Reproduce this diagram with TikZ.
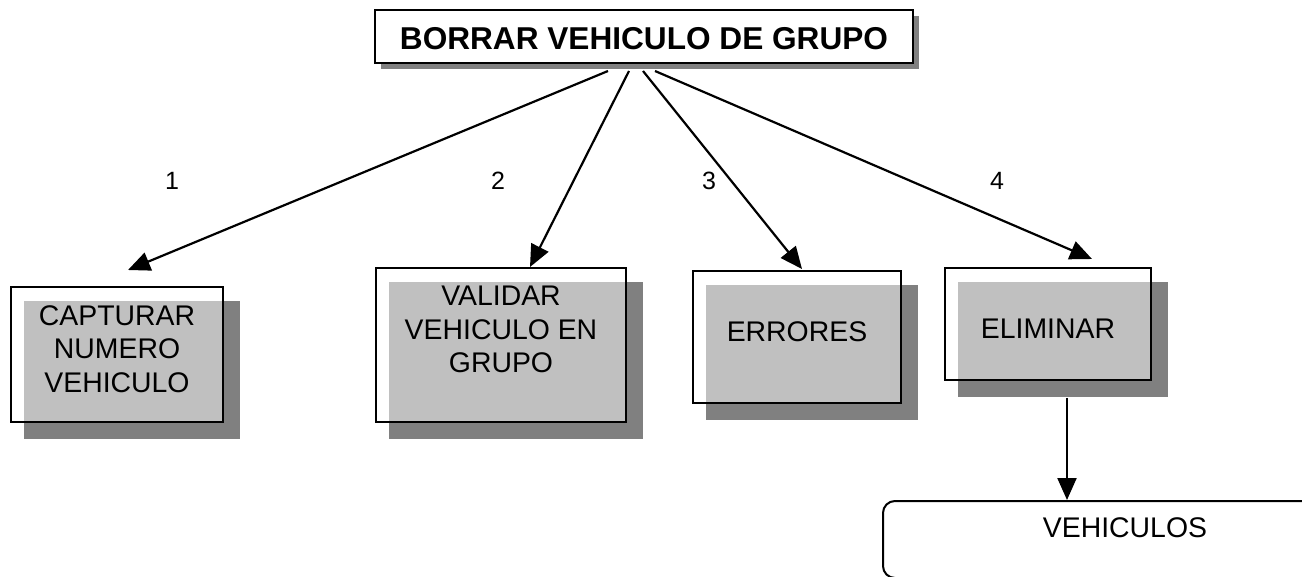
\documentclass[tikz,border=0pt]{standalone}
\usepackage{fontspec}
\setmainfont{Liberation Sans}
\usetikzlibrary{arrows.meta, shadows, backgrounds}
\definecolor{boxgrey}{HTML}{C0C0C0}
\definecolor{shadegrey}{HTML}{808080}

\begin{document}
\begin{tikzpicture}[x=0.5pt, y=-0.5pt,
    title box/.style={draw, line width=1pt, fill=white, inner sep=0pt,
        minimum width=269pt, minimum height=26.5pt,
        text height=13.5pt, text depth=0pt,
        font=\bfseries\fontsize{15.8}{18}\selectfont,
        drop shadow={shadow xshift=3pt, shadow yshift=-3pt, fill=shadegrey, opacity=1}},
    frame box/.style={draw, line width=1pt, inner sep=0pt},
    box text/.style={inner sep=0pt, align=center, font=\fontsize{14.2}{16.75}\selectfont},
    num label/.style={inner sep=0pt, font=\fontsize{12.5}{14}\selectfont},
    conn/.style={line width=1.1pt, -{Triangle[length=11pt, width=9.5pt]}}]
    \useasboundingbox (0,0) rectangle (1302,577);
    \clip (0,0) rectangle (1302,577);

    \node[title box] (titulo) at (644,36.5) {BORRAR VEHICULO DE GRUPO};

    \node[frame box, minimum width=106pt, minimum height=67.5pt] (captura) at (117,354.5) {};
    \node[frame box, minimum width=125pt, minimum height=77pt] (valida) at (501,345) {};
    \node[frame box, minimum width=104pt, minimum height=66pt] (errores) at (797,337) {};
    \node[frame box, minimum width=103pt, minimum height=56pt] (elimina) at (1048,324) {};

    \node[box text, anchor=north] (capturatxt) at (117,305) {CAPTURAR\\NUMERO\\VEHICULO};
    \node[box text, anchor=north] (validatxt) at (501,286) {VALIDAR\\VEHICULO EN\\GRUPO};
    \node[box text, anchor=base] (errorestxt) at (797,342) {ERRORES};
    \node[box text, anchor=base] (eliminatxt) at (1048,339) {ELIMINAR};

    \node[draw, line width=1pt, rounded corners=6pt, inner sep=0pt,
        minimum width=242pt, minimum height=38.5pt] (vehiculos) at (1125,539.5) {};
    \node[box text, anchor=base] (vehiculostxt) at (1125,537) {VEHICULOS};

    % numeros de los modulos
    \node[num label, anchor=base] (n1) at (172,190) {1};
    \node[num label, anchor=base] (n2) at (498,190) {2};
    \node[num label, anchor=base] (n3) at (709,190) {3};
    \node[num label, anchor=base] (n4) at (997,190) {4};

    \draw[conn] ([shift={(-36,7)}]titulo.south) -- ([shift={(11,-16)}]captura.north);
    \draw[conn] ([shift={(-15,7)}]titulo.south) -- ([shift={(29,0)}]valida.north);
    \draw[conn] ([shift={(-1,7)}]titulo.south) -- ([shift={(5,-1)}]errores.north);
    \draw[conn] ([shift={(11,7)}]titulo.south) -- ([shift={(44,-8)}]elimina.north);

    \coordinate (elimbase) at ([shift={(19,17)}]elimina.south);
    \draw[conn] (elimbase) -- (elimbase |- vehiculos.north);

    % cajas grises detras de los marcos
    \begin{scope}[on background layer]
        \foreach \b in {captura, valida, errores, elimina} {
            \fill[shadegrey] ([shift={(14,15)}]\b.north west) rectangle ([shift={(16,16)}]\b.south east);
            \fill[boxgrey] ([shift={(14,15)}]\b.north west) rectangle (\b.south east);
        }
    \end{scope}
\end{tikzpicture}
\end{document}
